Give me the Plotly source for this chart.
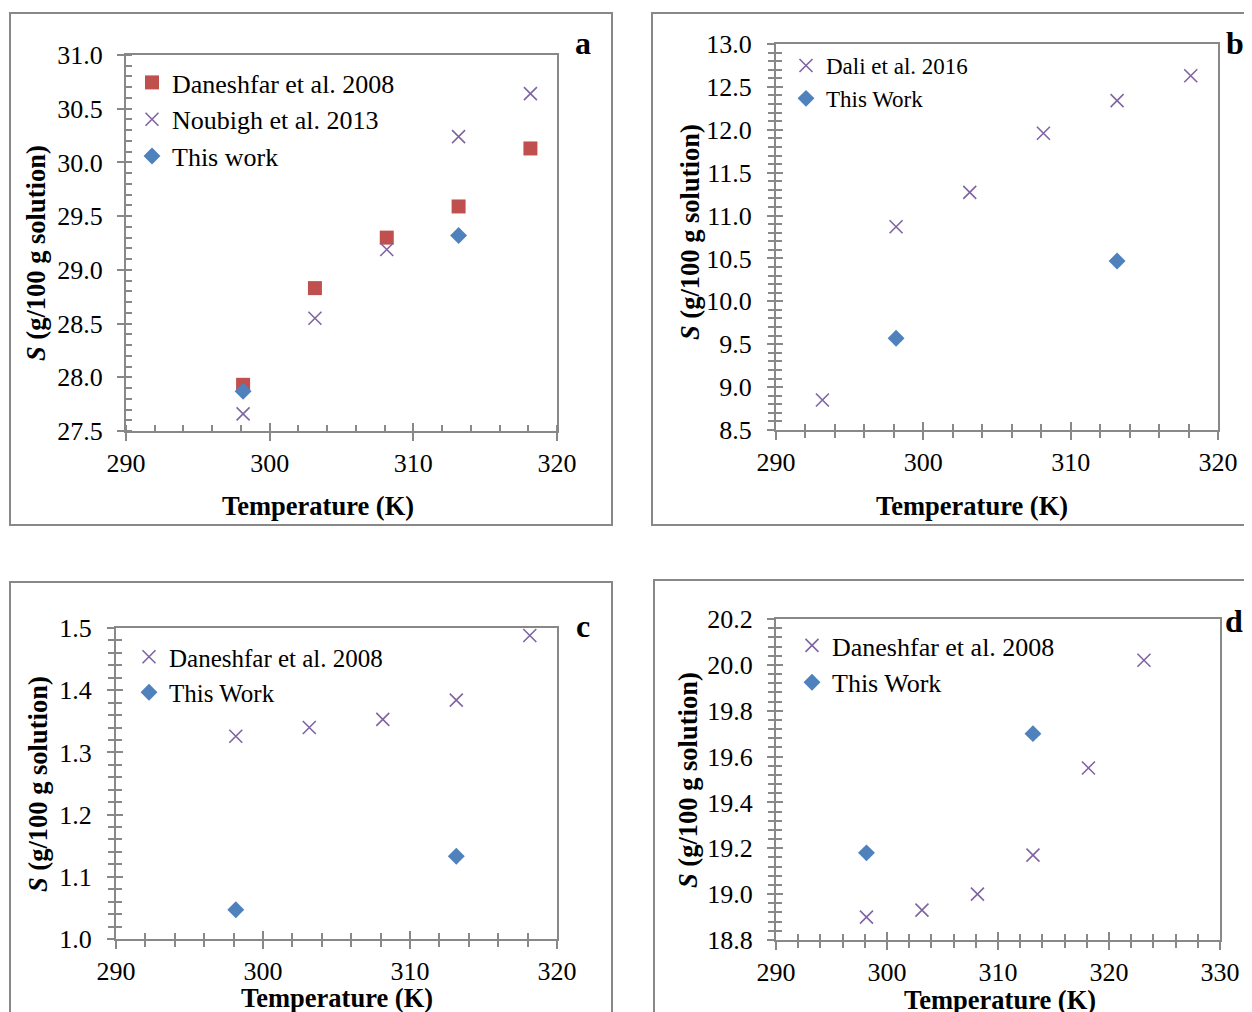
import plotly.graph_objects as go

# ---------------- data ----------------
T_a = [298.15, 303.15, 308.15, 313.15, 318.15]
daneshfar_a = [27.93, 28.83, 29.30, 29.59, 30.13]
noubigh_a = [27.66, 28.55, 29.19, 30.24, 30.64]
T_work_a = [298.15, 313.15]
work_a = [27.87, 29.32]

T_b = [293.15, 298.15, 303.15, 308.15, 313.15, 318.15]
dali_b = [8.85, 10.87, 11.27, 11.96, 12.34, 12.63]
T_work_b = [298.15, 313.15]
work_b = [9.57, 10.47]

T_c = [298.15, 303.15, 308.15, 313.15, 318.15]
daneshfar_c = [1.326, 1.340, 1.353, 1.384, 1.488]
T_work_c = [298.15, 313.15]
work_c = [1.047, 1.133]

T_d = [298.15, 303.15, 308.15, 313.15, 318.15, 323.15]
daneshfar_d = [18.90, 18.93, 19.00, 19.17, 19.55, 20.02]
T_work_d = [298.15, 313.15]
work_d = [19.18, 19.70]

panel_letters = ["a", "b", "c", "d"]
x_title = "Temperature (K)"
y_title = "<i>S</i> (g/100 g solution)"

# ---------------- style ----------------
OX, OY = 8, 8          # page body margin of the html page
W, H = 1252 - OX, 1012 - OY
FONT = "Liberation Serif, Times New Roman, serif"
GREY = "#888888"
RED = "#C0504D"
PURPLE = "#8064A2"
BLUE = "#4F81BD"


def px_x(p):
    return (p - OX) / W


def px_y(p):
    return 1 - (p - OY) / H


sq = dict(symbol="square", size=14, color=RED)
xx = dict(symbol="x-thin", size=13, color=PURPLE, line=dict(color=PURPLE, width=1.6))
dm = dict(symbol="diamond", size=13, color=BLUE)

fig = go.Figure()

# panel a
fig.add_trace(go.Scatter(x=T_a, y=daneshfar_a, mode="markers", marker=sq,
                         name="Daneshfar et al. 2008", xaxis="x", yaxis="y", legend="legend"))
fig.add_trace(go.Scatter(x=T_a, y=noubigh_a, mode="markers", marker=xx,
                         name="Noubigh et al. 2013", xaxis="x", yaxis="y", legend="legend"))
fig.add_trace(go.Scatter(x=T_work_a, y=work_a, mode="markers", marker=dm,
                         name="This work", xaxis="x", yaxis="y", legend="legend"))
# panel b
fig.add_trace(go.Scatter(x=T_b, y=dali_b, mode="markers", marker=xx,
                         name="Dali et al. 2016", xaxis="x2", yaxis="y2", legend="legend2"))
fig.add_trace(go.Scatter(x=T_work_b, y=work_b, mode="markers", marker=dm,
                         name="This Work", xaxis="x2", yaxis="y2", legend="legend2"))
# panel c
fig.add_trace(go.Scatter(x=T_c, y=daneshfar_c, mode="markers", marker=xx,
                         name="Daneshfar et al. 2008", xaxis="x3", yaxis="y3", legend="legend3"))
fig.add_trace(go.Scatter(x=T_work_c, y=work_c, mode="markers", marker=dm,
                         name="This Work", xaxis="x3", yaxis="y3", legend="legend3"))
# panel d
fig.add_trace(go.Scatter(x=T_d, y=daneshfar_d, mode="markers", marker=xx,
                         name="Daneshfar et al. 2008", xaxis="x4", yaxis="y4", legend="legend4"))
fig.add_trace(go.Scatter(x=T_work_d, y=work_d, mode="markers", marker=dm,
                         name="This Work", xaxis="x4", yaxis="y4", legend="legend4"))

# plot-area pixel boxes (left, right, top, bottom)
boxes = {
    1: (126, 557, 55, 431),
    2: (776, 1218, 44, 430),
    3: (116, 557, 628, 939),
    4: (776, 1220, 619, 940),
}
xranges = {1: [290, 320], 2: [290, 320], 3: [290, 320], 4: [290, 330]}
yranges = {1: [27.5, 31.0], 2: [8.5, 13.0], 3: [1.0, 1.5], 4: [18.8, 20.2]}
ydticks = {1: 0.5, 2: 0.5, 3: 0.1, 4: 0.2}
yminor = {1: 0.1, 2: 0.1, 3: 0.02, 4: 0.04}
ylabstand = {1: 9, 2: 10, 3: 10, 4: 9}
# axis-title centres (pixels)
xtitle_pos = {1: (318, 506), 2: (972, 506), 3: (337, 998), 4: (1000, 1000)}
ytitle_pos = {1: (36, 253), 2: (690, 232), 3: (38, 784), 4: (688, 780)}

tickfont = dict(family=FONT, size=26, color="black")
titlefont = dict(family=FONT, size=26.5, color="black", weight="bold")

for i in range(1, 5):
    l, r, t, b = boxes[i]
    xa = "xaxis" if i == 1 else f"xaxis{i}"
    ya = "yaxis" if i == 1 else f"yaxis{i}"
    xid = "x" if i == 1 else f"x{i}"
    yid = "y" if i == 1 else f"y{i}"
    minor_dir = "inside" if i == 1 else "outside"
    fig.layout[xa] = dict(
        domain=[px_x(l), px_x(r)], anchor=yid, range=xranges[i], automargin=False,
        dtick=10, tick0=290, showgrid=False, zeroline=False,
        showline=True, linecolor=GREY, linewidth=2, mirror=True,
        ticks="outside", ticklen=8, tickwidth=2, tickcolor=GREY,
        minor=dict(dtick=2, ticks=minor_dir, ticklen=6, tickwidth=2, tickcolor=GREY),
        tickfont=tickfont, ticklabelstandoff=0,
    )
    fig.layout[ya] = dict(
        domain=[px_y(b), px_y(t)], anchor=xid, range=yranges[i], automargin=False,
        dtick=ydticks[i], tick0=yranges[i][0], tickformat=".1f",
        showgrid=False, zeroline=False,
        showline=True, linecolor=GREY, linewidth=2, mirror=True,
        ticks="outside", ticklen=7, tickwidth=2, tickcolor=GREY,
        minor=dict(dtick=yminor[i], ticks=minor_dir, ticklen=6, tickwidth=2, tickcolor=GREY),
        tickfont=tickfont, ticklabelstandoff=ylabstand[i],
    )

    # overlay axes giving the inner half of the crossing tick marks
    oxid, oyid = f"x{i + 4}", f"y{i + 4}"
    common_ov = dict(automargin=False, showgrid=False, zeroline=False, showline=False,
                     showticklabels=False, ticks="inside", tickwidth=2, tickcolor=GREY)
    if i == 1:
        xminor = dict(ticks="")
        yov_ticks = dict(ticks="")
    else:
        xminor = dict(dtick=2, ticks="inside", ticklen=6, tickwidth=2, tickcolor=GREY)
        yov_ticks = dict()
    fig.layout[f"xaxis{i + 4}"] = dict(
        overlaying=xid, anchor=yid, range=xranges[i], dtick=10, tick0=290, ticklen=8,
        minor=xminor, **common_ov)
    fig.layout[f"yaxis{i + 4}"] = dict(
        overlaying=yid, anchor=xid, range=yranges[i], dtick=ydticks[i], tick0=yranges[i][0],
        ticklen=7,
        minor=(dict(ticks="") if i == 1 else
               dict(dtick=yminor[i], ticks="inside", ticklen=6, tickwidth=2, tickcolor=GREY)),
        **{**common_ov, **yov_ticks})
    fig.add_trace(go.Scatter(x=[], y=[], mode="markers", xaxis=oxid, yaxis=oyid,
                             showlegend=False, hoverinfo="skip"))

    # axis titles
    tx, ty = xtitle_pos[i]
    fig.add_annotation(text=x_title, xref="paper", yref="paper", x=px_x(tx), y=px_y(ty),
                       xanchor="center", yanchor="middle", showarrow=False, font=titlefont)
    tx, ty = ytitle_pos[i]
    fig.add_annotation(text=y_title, xref="paper", yref="paper", x=px_x(tx), y=px_y(ty),
                       xanchor="center", yanchor="middle", showarrow=False, textangle=-90,
                       font=titlefont)


def lfont(size):
    return dict(family=FONT, size=size, color="black")


legend_common = dict(bgcolor="rgba(0,0,0,0)", borderwidth=0,
                     xanchor="left", yanchor="top", itemsizing="trace")
fig.update_layout(
    legend=dict(x=px_x(132), y=px_y(59), font=lfont(26), **legend_common),
    legend2=dict(x=px_x(786), y=px_y(44), font=lfont(23), **legend_common),
    legend3=dict(x=px_x(129), y=px_y(634), font=lfont(25), **legend_common),
    legend4=dict(x=px_x(792), y=px_y(622), font=lfont(26), **legend_common),
)

# outer panel frames
frames = [(10, 612, 13, 525), (652, 1262, 13, 525), (10, 612, 582, 1022), (654, 1262, 580, 1022)]
for (l, r, t, b) in frames:
    fig.add_shape(type="rect", xref="paper", yref="paper",
                  x0=px_x(l), x1=px_x(r), y0=px_y(b), y1=px_y(t),
                  line=dict(color=GREY, width=2), fillcolor="rgba(0,0,0,0)", layer="below")

# panel letters
letter_pos = [(583, 43), (1235, 43), (583, 626), (1234, 621)]
for letter, (x, y) in zip(panel_letters, letter_pos):
    fig.add_annotation(text=letter, xref="paper", yref="paper", x=px_x(x), y=px_y(y),
                       xanchor="center", yanchor="middle", showarrow=False,
                       font=dict(family=FONT, size=32, color="black", weight="bold"))

fig.update_layout(
    width=W, height=H, margin=dict(l=0, r=0, t=0, b=0, autoexpand=False),
    paper_bgcolor="white", plot_bgcolor="white",
    font=dict(family=FONT, color="black"),
)

fig.write_html("out.html")
